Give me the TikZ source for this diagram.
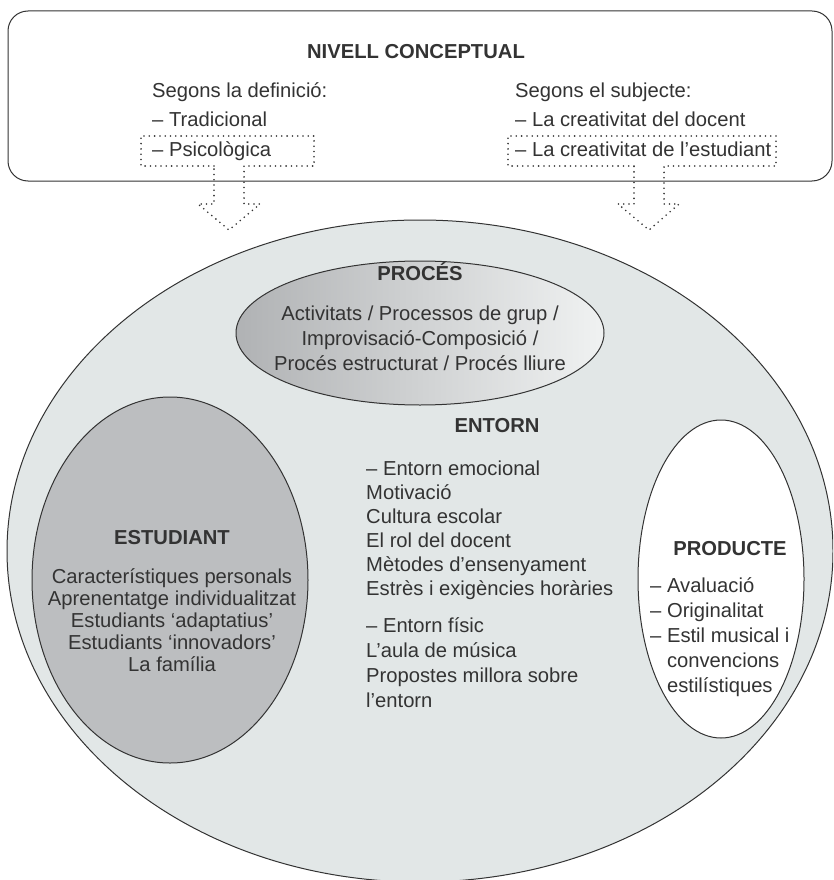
\documentclass[tikz,border=0pt]{standalone}
\usepackage{fontspec}
\setmainfont{Liberation Sans}
\usetikzlibrary{shapes,positioning}
\definecolor{ink}{HTML}{333333}
\definecolor{outerfill}{HTML}{E2E7E7}
\definecolor{studfill}{HTML}{BCBEC0}
\definecolor{procleft}{HTML}{B0B2B4}
\definecolor{procright}{HTML}{F0F2F2}
\tikzstyle{contour} = [draw=ink,line width=1pt,rectangle,rounded corners=20pt,inner sep=0]
\tikzstyle{blob} = [draw=ink,line width=1pt,ellipse,inner sep=0]
\tikzstyle{head} = [font=\fs\bfseries,text=ink,inner sep=0,anchor=base]
\tikzstyle{txt} = [font=\fs,text=ink,inner sep=0,anchor=base west]
\tikzstyle{ctxt} = [font=\fs,text=ink,inner sep=0,anchor=base]
\tikzstyle{dots} = [draw=ink,line width=1.8pt,line cap=round,dash pattern=on 0pt off 5.3pt]
\def \fs {\fontsize{20.2}{24}\selectfont}

\begin{document}
\begin{tikzpicture}[x=1pt,y=-1pt]
  \useasboundingbox (0,0) rectangle (833,880);
  \begin{scope}
    \clip (0,0) rectangle (833,880);
    \node[blob,fill=outerfill,minimum width=826,minimum height=662] (outer) at (420,551) {};
  \end{scope}
  \node[blob,left color=procleft,right color=procright,minimum width=368,minimum height=144] (proc) at (420,333) {};
  \node[blob,fill=studfill,minimum width=276,minimum height=366] (estud) at (170,580) {};
  \node[blob,fill=white,minimum width=166,minimum height=318] (prod) at (721,579) {};
  % nivell conceptual
  \node[contour,fill=white,minimum width=824,minimum height=170] (nivell) at (420,96) {};
  \node[head] (tnivell) at (416,59) {NIVELL CONCEPTUAL};
  \node[txt] (def) at (152,98) {Segons la definició:};
  \node[txt] (trad) at (152,127) {– Tradicional};
  \node[txt] (psi) at (152,156) {– Psicològica};
  \node[txt] (subj) at (515,98) {Segons el subjecte:};
  \node[txt] (doc) at (515,127) {– La creativitat del docent};
  \node[txt] (est) at (515,156) {– La creativitat de l’estudiant};
  \draw[dots] (214,166) -- (141,166) -- (141,136) -- (314,136) -- (314,166) -- (244,166)
    -- (244,204) -- (260,204) -- (229,230) -- (198,204) -- (214,204) -- cycle;
  \draw[dots] (634,166) -- (508,166) -- (508,136) -- (776,136) -- (776,166) -- (664,166)
    -- (664,204) -- (679,204) -- (649,230) -- (618,204) -- (634,204) -- cycle;
  % proces
  \node[head] (tproc) at (420,280) {PROCÉS};
  \foreach \t [count=\i from 0] in {Activitats / Processos de grup /,Improvisació-Composició /,Procés estructurat / Procés lliure}
    \node[ctxt] (proc\i) at (420,320+25*\i) {\t};
  % estudiant
  \node[head] (testud) at (172,544) {ESTUDIANT};
  \foreach \t [count=\i from 0] in {Característiques personals,Aprenentatge individualitzat,Estudiants ‘adaptatius’,Estudiants ‘innovadors’,La família}
    \node[ctxt] (estud\i) at (172,583+22*\i) {\t};
  % entorn
  \node[head] (tentorn) at (497,432) {ENTORN};
  \foreach \t [count=\i from 0] in {– Entorn emocional,Motivació,Cultura escolar,El rol del docent,Mètodes d’ensenyament,Estrès i exigències horàries}
    \node[txt] (emo\i) at (366,475+24*\i) {\t};
  \foreach \t [count=\i from 0] in {– Entorn físic,L’aula de música,Propostes millora sobre,l’entorn}
    \node[txt] (fis\i) at (366,632+25*\i) {\t};
  % producte
  \node[head] (tprod) at (730,555) {PRODUCTE};
  \foreach \t [count=\i from 0] in {– Avaluació,– Originalitat,– Estil musical i,\phantom{– }convencions,\phantom{– }estilístiques}
    \node[txt] (prod\i) at (650,592+25*\i) {\t};
\end{tikzpicture}
\end{document}
